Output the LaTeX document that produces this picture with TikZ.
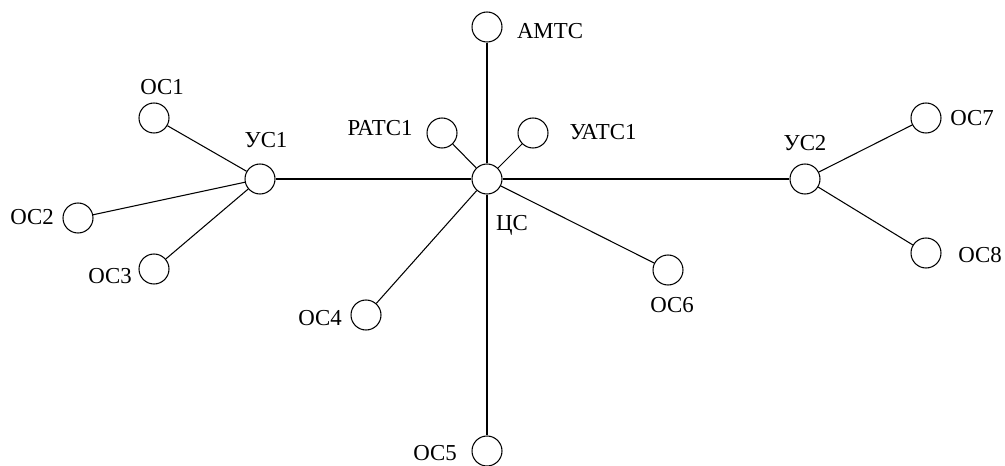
\documentclass[tikz,border=0pt]{standalone}
\usepackage{fontspec}
\setmainfont{Liberation Serif}
\usepackage{tikz}

\begin{document}
\begin{tikzpicture}[x=0.02cm, y=0.02cm]
    \tikzstyle{every node}+=[inner sep=0pt, font=\fontsize{13}{15}\selectfont]
    \tikzstyle{stn}=[draw=black, line width=0.6pt, circle, minimum size=0.6cm]
    \useasboundingbox (0,0) rectangle (1005,-466);
    \node [stn] (cs) at (487,-179) {};
    \draw (512,-225) node (csl) {ЦС};
    \node [stn] (amts) at (487,-27) {};
    \draw (550,-31) node (amtsl) {АМТС};
    \node [stn] (rats) at (442,-133) {};
    \draw (380,-128) node (ratsl) {РАТС1};
    \node [stn] (uats) at (533,-133) {};
    \draw (603,-132) node (uatsl) {УАТС1};
    \node [stn] (us1) at (260,-179) {};
    \draw (266,-140) node (us1l) {УС1};
    \node [stn] (os1) at (154,-118) {};
    \draw (162,-87) node (os1l) {ОС1};
    \node [stn] (os2) at (78,-218) {};
    \draw (32,-217) node (os2l) {ОС2};
    \node [stn] (os3) at (154,-269) {};
    \draw (110,-276) node (os3l) {ОС3};
    \node [stn] (os4) at (366,-315) {};
    \draw (320,-318) node (os4l) {ОС4};
    \node [stn] (os5) at (487,-451) {};
    \draw (435,-453) node (os5l) {ОС5};
    \node [stn] (os6) at (668,-270) {};
    \draw (672,-305) node (os6l) {ОС6};
    \node [stn] (us2) at (805,-179) {};
    \draw (805,-143) node (us2l) {УС2};
    \node [stn] (os7) at (926,-118) {};
    \draw (972,-118) node (os7l) {ОС7};
    \node [stn] (os8) at (926,-253) {};
    \draw (980,-255) node (os8l) {ОС8};
    \draw [black, line width=0.6pt] (cs) -- (amts);
    \draw [black, line width=0.6pt] (cs) -- (rats);
    \draw [black, line width=0.6pt] (cs) -- (uats);
    \draw [black, line width=0.6pt] (cs) -- (us1);
    \draw [black, line width=0.6pt] (cs) -- (us2);
    \draw [black, line width=0.6pt] (cs) -- (os4);
    \draw [black, line width=0.6pt] (cs) -- (os5);
    \draw [black, line width=0.6pt] (cs) -- (os6);
    \draw [black, line width=0.6pt] (us1) -- (os1);
    \draw [black, line width=0.6pt] (us1) -- (os2);
    \draw [black, line width=0.6pt] (us1) -- (os3);
    \draw [black, line width=0.6pt] (us2) -- (os7);
    \draw [black, line width=0.6pt] (us2) -- (os8);
\end{tikzpicture}
\end{document}
